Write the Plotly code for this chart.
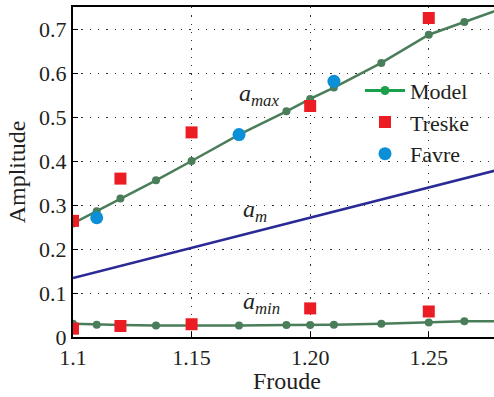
import plotly.graph_objects as go

# ---- data ----
model_x = [1.10, 1.11, 1.12, 1.135, 1.15, 1.17, 1.19, 1.20, 1.21, 1.23, 1.25, 1.265, 1.28]
model_amax = [0.258, 0.286, 0.315, 0.356, 0.400, 0.460, 0.513, 0.541, 0.567, 0.623, 0.687, 0.716, 0.745]
model_amin = [0.030, 0.028, 0.027, 0.0264, 0.026, 0.0264, 0.027, 0.027, 0.028, 0.030, 0.033, 0.036, 0.036]

am_x = [1.10, 1.28]
am_y = [0.134, 0.381]

treske_x = [1.10, 1.12, 1.15, 1.20, 1.25]
treske_amax = [0.264, 0.360, 0.465, 0.525, 0.725]
treske_amin = [0.019, 0.025, 0.029, 0.065, 0.058]

favre_x = [1.11, 1.17, 1.21]
favre_amax = [0.271, 0.460, 0.581]

xtick_vals = [1.10, 1.15, 1.20, 1.25]
xtick_text = ["1.1", "1.15", "1.20", "1.25"]
ytick_vals = [0, 0.1, 0.2, 0.3, 0.4, 0.5, 0.6, 0.7]
ytick_text = ["0", "0.1", "0.2", "0.3", "0.4", "0.5", "0.6", "0.7"]

# ---- style ----
FONT = "Liberation Serif"
MODEL_C = "#4a7d5a"
MODEL_LEG = "#1aa04a"
RED = "#ec1c24"
BLUE = "#0b8fd6"
NAVY = "#2a2a96"
TXT = "#231f20"

fig = go.Figure()

fig.add_trace(go.Scatter(x=am_x, y=am_y, mode="lines",
                         line=dict(color=NAVY, width=2.5), showlegend=False))
fig.add_trace(go.Scatter(x=model_x, y=model_amax, mode="lines+markers",
                         line=dict(color=MODEL_C, width=2.5),
                         marker=dict(color=MODEL_C, size=8), showlegend=False))
fig.add_trace(go.Scatter(x=model_x, y=model_amin, mode="lines+markers",
                         line=dict(color=MODEL_C, width=2.5),
                         marker=dict(color=MODEL_C, size=8), showlegend=False))
fig.add_trace(go.Scatter(x=treske_x, y=treske_amax, mode="markers",
                         marker=dict(color=RED, size=12, symbol="square"), showlegend=False))
fig.add_trace(go.Scatter(x=treske_x, y=treske_amin, mode="markers",
                         marker=dict(color=RED, size=12, symbol="square"), showlegend=False))
fig.add_trace(go.Scatter(x=favre_x, y=favre_amax, mode="markers",
                         marker=dict(color=BLUE, size=13), showlegend=False))

# legend entries
fig.add_trace(go.Scatter(x=[None], y=[None], mode="lines+markers", name="Model",
                         line=dict(color=MODEL_LEG, width=3),
                         marker=dict(color=MODEL_LEG, size=9)))
fig.add_trace(go.Scatter(x=[None], y=[None], mode="markers", name="Treske",
                         marker=dict(color=RED, size=12, symbol="square")))
fig.add_trace(go.Scatter(x=[None], y=[None], mode="markers", name="Favre",
                         marker=dict(color=BLUE, size=13)))

grid = dict(showgrid=True, gridcolor="#333333", gridwidth=1.3, griddash="1.3px,7px")

fig.update_xaxes(range=[1.1, 1.2775], tickvals=xtick_vals, ticktext=xtick_text,
                 showline=True, linecolor="black", linewidth=2, mirror=True,
                 ticks="inside", ticklen=5, tickcolor="black", tickwidth=1.2,
                 zeroline=False, tickfont=dict(family=FONT, size=22, color=TXT), **grid)
fig.update_yaxes(range=[0, 0.75], tickvals=ytick_vals, ticktext=ytick_text,
                 showline=True, linecolor="black", linewidth=2, mirror=False,
                 ticks="inside", ticklen=5, tickcolor="black", tickwidth=1.2,
                 zeroline=False, tickfont=dict(family=FONT, size=22, color=TXT),
                 title=dict(text="Amplitude", font=dict(family=FONT, size=24, color=TXT), standoff=7),
                 **grid)

ann_font = dict(family=FONT, size=24, color=TXT)
fig.add_annotation(x=1.169, y=0.549, xref="x", yref="y", showarrow=False,
                   text="<i>a</i><sub><i>max</i></sub>", font=ann_font, xanchor="left")
fig.add_annotation(x=1.171, y=0.286, xref="x", yref="y", showarrow=False,
                   text="<i>a</i><sub><i>m</i></sub>", font=ann_font, xanchor="left")
fig.add_annotation(x=1.171, y=0.078, xref="x", yref="y", showarrow=False,
                   text="<i>a</i><sub><i>min</i></sub>", font=ann_font, xanchor="left")
fig.add_annotation(x=(286.5 - 73) / 421, y=-0.133, xref="paper", yref="paper", showarrow=False,
                   text="Froude", font=dict(family=FONT, size=24, color=TXT),
                   xanchor="center", yanchor="middle")

fig.update_layout(
    width=494, height=397,
    margin=dict(l=73, r=0, t=7, b=60),
    paper_bgcolor="white", plot_bgcolor="white",
    legend=dict(x=(360 - 73) / 421, y=0.81, xanchor="left", yanchor="top",
                bgcolor="rgba(0,0,0,0)", itemwidth=40,
                font=dict(family=FONT, size=22, color=TXT), tracegroupgap=0),
    font=dict(family=FONT, color=TXT),
)

fig.write_html("out.html")
